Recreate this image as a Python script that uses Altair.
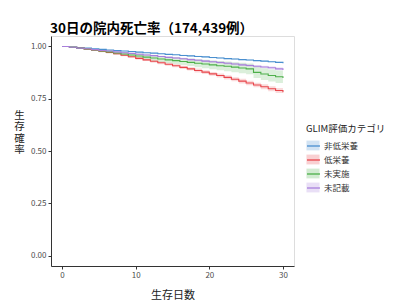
import altair as alt
import pandas as pd

days = list(range(31))
groups = ["非低栄養", "低栄養", "未実施", "未記載"]
colors = ["#4A8FCF", "#E8454B", "#4DAF4A", "#A97FDB"]

surv_non = [1.000, 0.997, 0.994, 0.992, 0.989, 0.986, 0.983, 0.981, 0.978, 0.976,
            0.973, 0.970, 0.968, 0.965, 0.962, 0.960, 0.957, 0.955, 0.952, 0.950,
            0.947, 0.945, 0.942, 0.940, 0.937, 0.935, 0.932, 0.930, 0.927, 0.924, 0.920]
surv_mal = [1.000, 0.996, 0.992, 0.987, 0.982, 0.977, 0.971, 0.965, 0.958, 0.951,
            0.943, 0.936, 0.929, 0.922, 0.915, 0.908, 0.900, 0.893, 0.885, 0.877,
            0.869, 0.861, 0.852, 0.843, 0.834, 0.825, 0.816, 0.807, 0.798, 0.789, 0.781]
surv_nd = [1.000, 0.996, 0.992, 0.988, 0.983, 0.978, 0.974, 0.969, 0.964, 0.959,
           0.954, 0.949, 0.945, 0.940, 0.936, 0.932, 0.928, 0.924, 0.920, 0.916,
           0.912, 0.908, 0.905, 0.901, 0.897, 0.893, 0.876, 0.868, 0.861, 0.855, 0.849]
surv_nr = [1.000, 0.996, 0.992, 0.989, 0.985, 0.981, 0.978, 0.974, 0.970, 0.967,
           0.963, 0.959, 0.956, 0.952, 0.948, 0.945, 0.941, 0.937, 0.934, 0.930,
           0.927, 0.923, 0.920, 0.916, 0.912, 0.909, 0.905, 0.902, 0.898, 0.893, 0.887]

ci_non = [0.000, 0.001, 0.001, 0.001, 0.001, 0.001, 0.001, 0.002, 0.002, 0.002,
          0.002, 0.002, 0.002, 0.002, 0.002, 0.002, 0.003, 0.003, 0.003, 0.003,
          0.003, 0.003, 0.003, 0.003, 0.003, 0.003, 0.003, 0.003, 0.003, 0.003, 0.003]
ci_mal = [0.000, 0.002, 0.002, 0.003, 0.003, 0.004, 0.004, 0.005, 0.005, 0.006,
          0.006, 0.006, 0.007, 0.007, 0.007, 0.008, 0.008, 0.008, 0.009, 0.009,
          0.009, 0.010, 0.010, 0.010, 0.011, 0.011, 0.011, 0.012, 0.012, 0.012, 0.013]
ci_nd = [0.000, 0.002, 0.003, 0.004, 0.005, 0.006, 0.007, 0.008, 0.009, 0.010,
         0.011, 0.012, 0.013, 0.014, 0.015, 0.016, 0.017, 0.018, 0.019, 0.020,
         0.021, 0.022, 0.023, 0.024, 0.025, 0.026, 0.027, 0.028, 0.029, 0.030, 0.030]
ci_nr = [0.000, 0.001, 0.001, 0.002, 0.002, 0.002, 0.003, 0.003, 0.003, 0.003,
         0.004, 0.004, 0.004, 0.004, 0.004, 0.005, 0.005, 0.005, 0.005, 0.005,
         0.005, 0.006, 0.006, 0.006, 0.006, 0.006, 0.006, 0.006, 0.007, 0.007, 0.007]

rows = []
for g, s, c in zip(groups, [surv_non, surv_mal, surv_nd, surv_nr],
                   [ci_non, ci_mal, ci_nd, ci_nr]):
    for d, v, w in zip(days, s, c):
        rows.append({"day": d, "surv": v, "lo": v - w, "hi": v + w, "group": g})
df = pd.DataFrame(rows)

FONT = "Noto Sans CJK JP"
xscale = alt.Scale(domain=[-1.5, 31.5], nice=False, zero=False)
yscale = alt.Scale(domain=[-0.05, 1.05], nice=False, zero=False)
cscale = alt.Scale(domain=groups, range=colors)

xaxis = alt.Axis(values=[0, 10, 20, 30], title="生存日数", grid=False,
                 labelColor="#4D4D4D", labelFontSize=8, tickColor="#333333",
                 tickSize=3, domainColor="#333333", titleFontSize=11,
                 titleFontWeight="normal", titleColor="#222222", titlePadding=10,
                 labelFont=FONT, titleFont=FONT)
yaxis = alt.Axis(values=[0, 0.25, 0.5, 0.75, 1.0], format=".2f",
                 title=["生", "存", "確", "率"], titleAngle=0, grid=False,
                 labelColor="#4D4D4D", labelFontSize=8, tickColor="#333333",
                 tickSize=3, domainColor="#333333", titleFontSize=10.5,
                 titleFontWeight="normal", titleColor="#222222",
                 titleLineHeight=11.5, titleX=-32, titleY=84, titleAlign="center",
                 labelFont=FONT, titleFont=FONT)

legend_common = dict(orient="none", legendX=255, legendY=88, title="GLIM評価カテゴリ",
                     titleFontSize=9.5, titleFontWeight="normal", titleColor="#222222",
                     labelFontSize=8.5, labelColor="#333333", titleFont=FONT,
                     labelFont=FONT, rowPadding=2, titlePadding=5, symbolSize=170)

band = alt.Chart(df).mark_area(interpolate="step-after", opacity=0.2).encode(
    x=alt.X("day:Q", scale=xscale, axis=xaxis),
    y=alt.Y("lo:Q", scale=yscale, axis=yaxis),
    y2="hi:Q",
    fill=alt.Fill("group:N", scale=cscale, sort=groups,
                  legend=alt.Legend(symbolType="M-1,-0.75L1,-0.75L1,0.75L-1,0.75Z",
                                    symbolOpacity=0.25, symbolStrokeWidth=0,
                                    **legend_common)),
)

line = alt.Chart(df).mark_line(interpolate="step-after", strokeWidth=1.1).encode(
    x=alt.X("day:Q", scale=xscale),
    y=alt.Y("surv:Q", scale=yscale),
    stroke=alt.Stroke("group:N", scale=cscale, sort=groups,
                      legend=alt.Legend(symbolType="stroke", symbolStrokeWidth=1.3,
                                        labelOpacity=0, titleOpacity=0,
                                        **legend_common)),
)

chart = alt.layer(band, line).resolve_legend(fill="independent", stroke="independent").properties(
    width=243, height=230,
    autosize=alt.AutoSizeParams(type="none"),
    padding={"left": 51, "top": 36, "right": 106, "bottom": 34},
    title=alt.TitleParams("30日の院内死亡率（174,439例）", anchor="start", frame="group",
                          fontSize=13.5, fontWeight="bold", font=FONT, color="#000000",
                          offset=1, dx=-1),
).configure_view(stroke=None).configure(background="white")

chart.save("out.html", embed_options={"renderer": "svg", "actions": False})
